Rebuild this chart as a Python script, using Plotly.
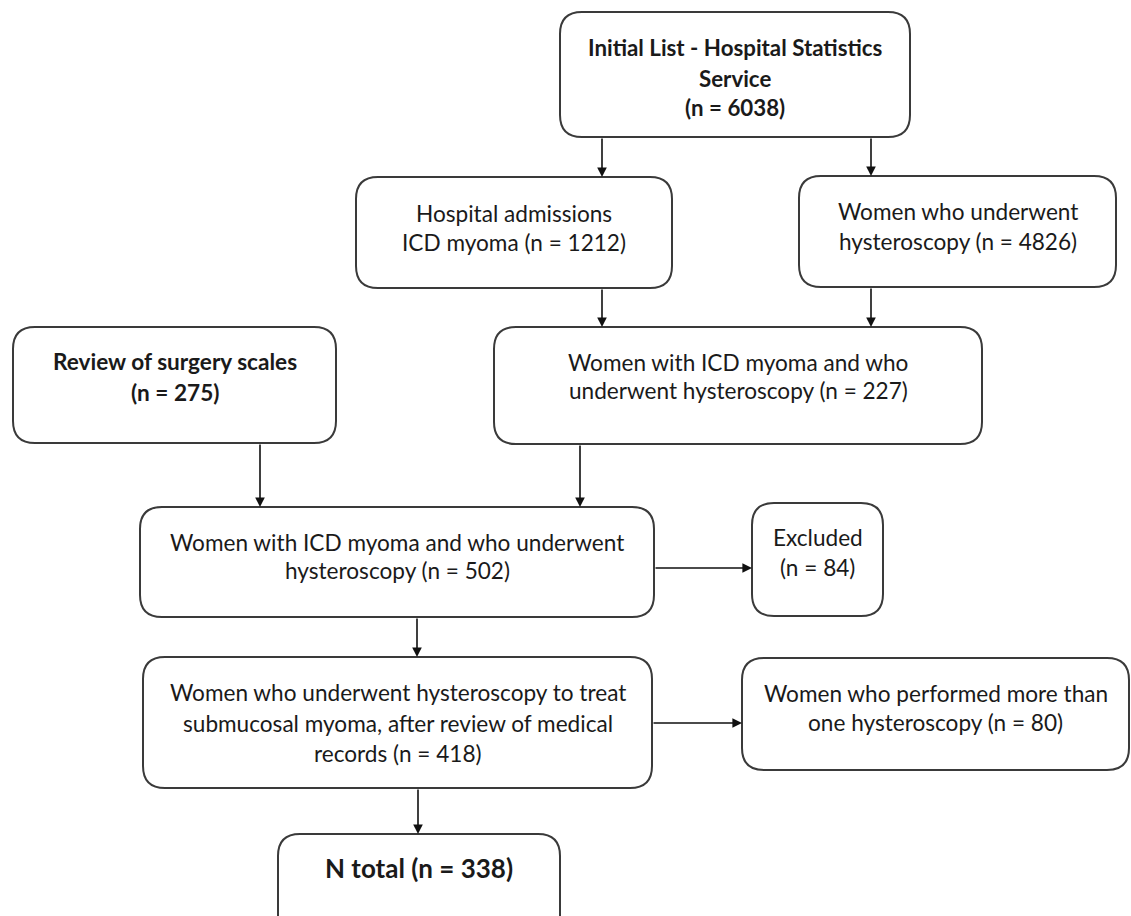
import plotly.graph_objects as go

# ---- data: box texts and counts ----
box_names = ["start", "admissions", "hysteroscopy", "surgery_scales", "icd_and_hyst",
             "merged", "excluded", "submucosal", "repeat", "total"]
box_lines = [
    ["Initial List - Hospital Statistics", "Service", "(n = {n})"],
    ["Hospital admissions", "ICD myoma (n = {n})"],
    ["Women who underwent", "hysteroscopy (n = {n})"],
    ["Review of surgery scales", "(n = {n})"],
    ["Women with ICD myoma and who", "underwent hysteroscopy (n = {n})"],
    ["Women with ICD myoma and who underwent", "hysteroscopy (n = {n})"],
    ["Excluded", "(n = {n})"],
    ["Women who underwent hysteroscopy to treat", "submucosal myoma, after review of medical", "records (n = {n})"],
    ["Women who performed more than", "one hysteroscopy (n = {n})"],
    ["N total (n = {n})"],
]
box_counts = [6038, 1212, 4826, 275, 227, 502, 84, 418, 80, 338]
box_bold = [True, False, False, True, False, False, False, False, False, True]

# flow links (from box index -> to box index)
links_from = [0, 0, 1, 2, 3, 4, 5, 5, 7, 7]
links_to   = [1, 2, 4, 4, 5, 5, 6, 7, 8, 9]

# ---- layout geometry (pixels, y downward) ----
W, H = 1131, 916
box_x0 = [560, 356, 799, 13, 494, 140, 752, 143, 742, 278]
box_x1 = [910, 672, 1116, 336, 982, 654, 883, 652, 1129, 560]
box_y0 = [12, 177, 176, 327, 327, 507, 503, 657, 658, 834]
box_y1 = [137, 288, 287, 443, 444, 617, 616, 788, 770, 940]
text_y = [[47, 78, 107], [213, 242], [211, 241], [361, 392], [362, 390],
          [542, 570], [537, 567], [692, 723, 753], [693, 722], [868]]
font_size = [22.3, 22.6, 22.6, 22.6, 22.6, 22.6, 22.6, 22.6, 22.6, 26]
# arrow geometry: vertical arrows use x, horizontal use y
arrow_kind = ["v", "v", "v", "v", "v", "v", "h", "v", "h", "v"]
arrow_pos = [602, 871, 602, 871, 260, 580, 568, 417, 723, 418]

R = 22
BORDER = "#3a3a3a"
TEXT = "#1a1a1a"


def rounded(x0, y0, x1, y1, r):
    return (f"M {x0+r},{y0} L {x1-r},{y0} Q {x1},{y0} {x1},{y0+r} "
            f"L {x1},{y1-r} Q {x1},{y1} {x1-r},{y1} L {x0+r},{y1} "
            f"Q {x0},{y1} {x0},{y1-r} L {x0},{y0+r} Q {x0},{y0} {x0+r},{y0} Z")


fig = go.Figure()
shapes = []
annotations = []

for i in range(len(box_names)):
    x0, x1, y0, y1 = box_x0[i], box_x1[i], box_y0[i], box_y1[i]
    shapes.append(dict(type="path", path=rounded(x0, y0, x1, y1, R),
                       xref="x", yref="y", line=dict(color=BORDER, width=2),
                       fillcolor="white", layer="below"))
    cx = (x0 + x1) / 2
    for line, ty in zip(box_lines[i], text_y[i]):
        txt = line.format(n=box_counts[i])
        if box_bold[i]:
            txt = f"<b>{txt}</b>"
        annotations.append(dict(x=cx, y=ty, xref="x", yref="y", text=txt,
                                showarrow=False, xanchor="center", yanchor="middle",
                                font=dict(family="Lato", size=font_size[i], color=TEXT)))

for f, t, kind, pos in zip(links_from, links_to, arrow_kind, arrow_pos):
    if kind == "v":
        sx, sy = pos, box_y1[f]
        ex, ey = pos, box_y0[t]
    else:
        sx, sy = box_x1[f], pos
        ex, ey = box_x0[t], pos
    annotations.append(dict(x=ex, y=ey, ax=sx, ay=sy, xref="x", yref="y",
                            axref="x", ayref="y", text="", showarrow=True,
                            arrowhead=2, arrowsize=1.2, arrowwidth=1.6,
                            arrowcolor="#111111", standoff=0, startstandoff=0))

fig.update_layout(
    width=W, height=H, autosize=False,
    margin=dict(l=0, r=0, t=0, b=0),
    paper_bgcolor="white", plot_bgcolor="white",
    xaxis=dict(range=[0, W], visible=False, fixedrange=True),
    yaxis=dict(range=[H, 0], visible=False, fixedrange=True),
    shapes=shapes, annotations=annotations, showlegend=False,
)

fig.write_html("out.html", config={"displayModeBar": False},
               post_script="document.body.style.margin='0';document.body.style.overflow='hidden';")
